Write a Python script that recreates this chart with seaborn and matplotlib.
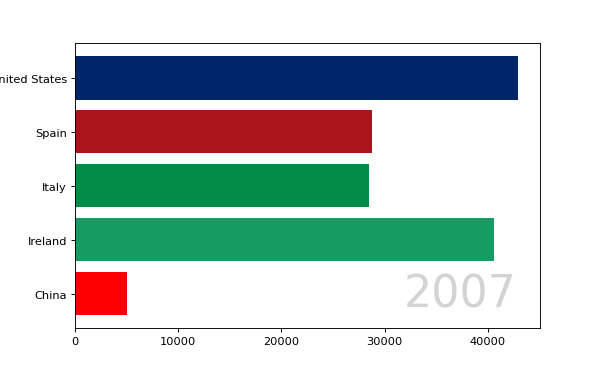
import pandas as pd
import matplotlib
matplotlib.use("Agg")
import matplotlib.pyplot as plt
import seaborn as sns

# GDP per capita style values for one year frame
countries = ['United States', 'Spain', 'Italy', 'Ireland', 'China']
values = [42900, 28800, 28500, 40600, 5000]
colors = ['#00266A', '#AA151B', '#008C45', '#169B62', '#FF0000']
year = '2007'

df = pd.DataFrame({'country': countries, 'value': values})

dpi = 82
fig, ax = plt.subplots(figsize=(600 / dpi, 370 / dpi), dpi=dpi)

sns.barplot(data=df, x='value', y='country', hue='country', order=countries,
            palette=colors, saturation=1, orient='h', width=0.8, linewidth=0,
            legend=False, ax=ax)

# match matplotlib's barh spacing (5% margins around the bars)
ax.set_ylim(len(countries) - 1 + 0.4 + 0.24, -0.4 - 0.24)
ax.set_xlim(0, max(values) * 1.05)
ax.set_xlabel('')
ax.set_ylabel('')

ax.text(0.95, 0.045, year, transform=ax.transAxes, ha='right', va='bottom',
        fontsize=39, color='#d3d3d3')

plt.savefig('out.png', dpi=dpi)
